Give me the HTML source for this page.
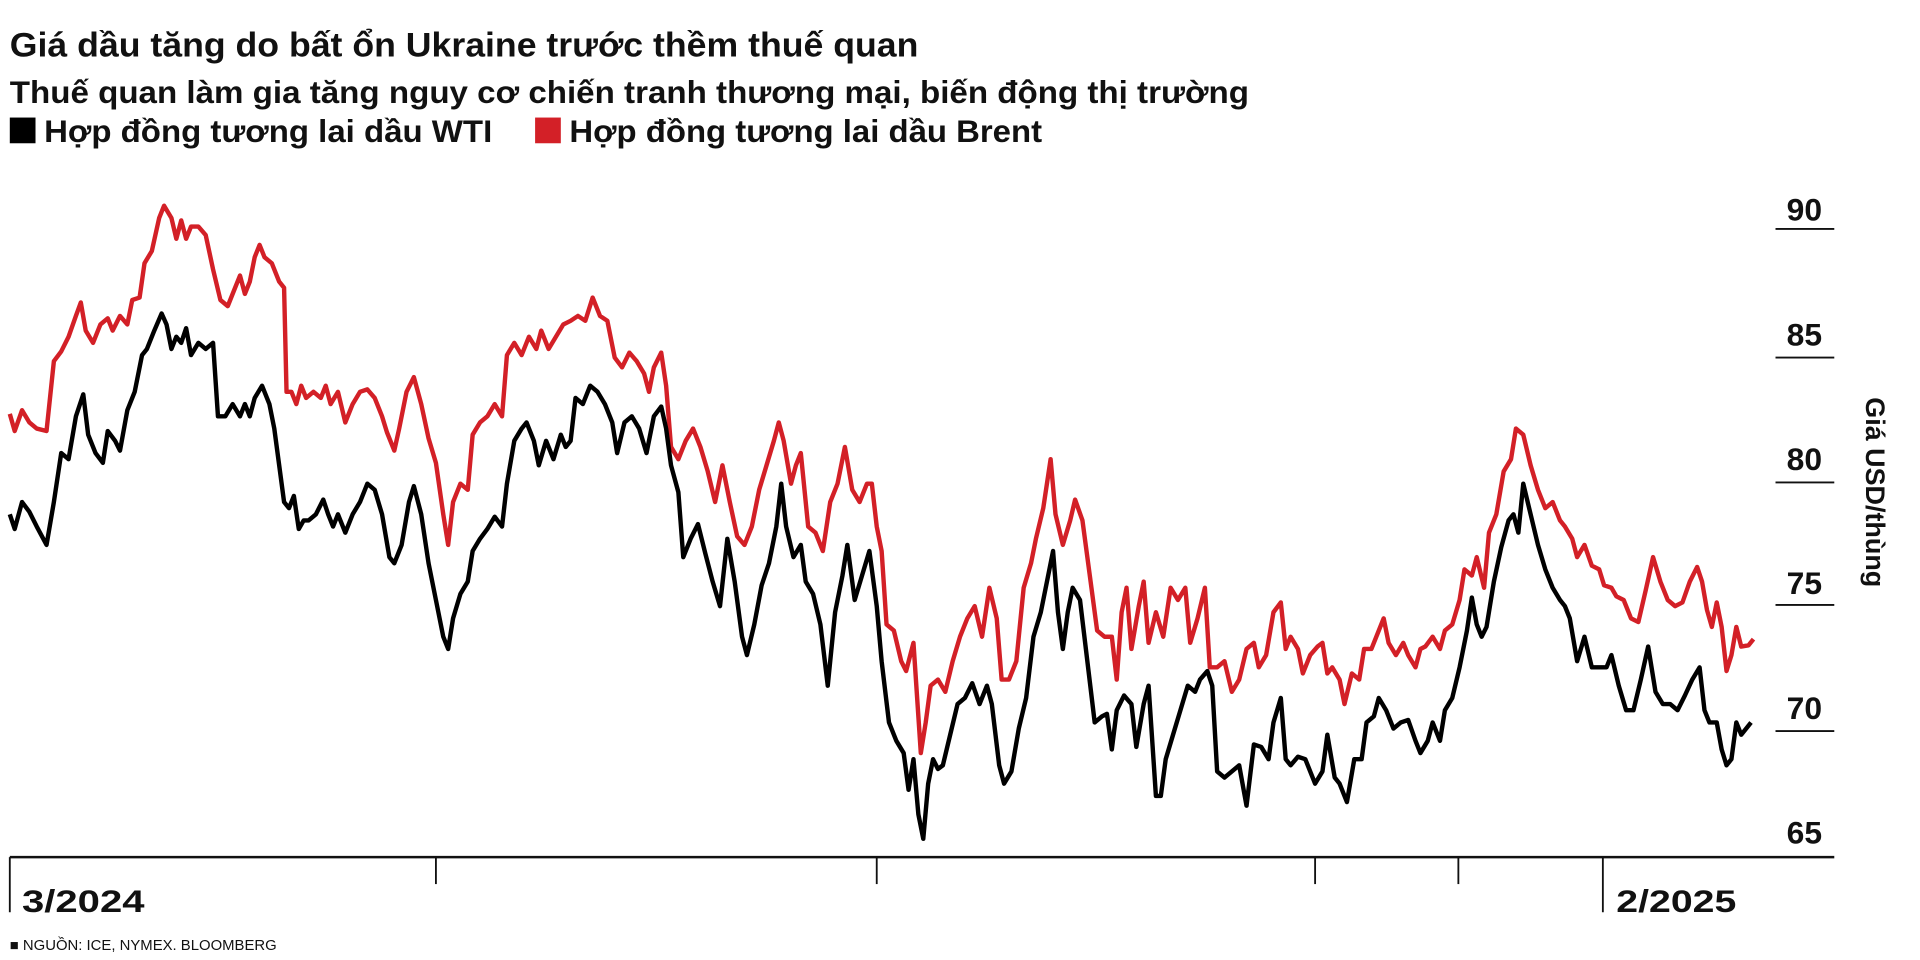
<!DOCTYPE html>
<html><head><meta charset="utf-8"><style>
html,body{margin:0;padding:0;background:#fff;}
svg{display:block;}
text{font-family:"Liberation Sans",sans-serif;fill:#111;}
</style></head><body>
<svg width="1920" height="960" viewBox="0 0 1568 784" xmlns="http://www.w3.org/2000/svg">
<text x="8" y="46" font-size="28" font-weight="bold" textLength="742" lengthAdjust="spacingAndGlyphs">Giá dầu tăng do bất ổn Ukraine trước thềm thuế quan</text>
<text x="8" y="84" font-size="26" font-weight="bold" textLength="1012" lengthAdjust="spacingAndGlyphs">Thuế quan làm gia tăng nguy cơ chiến tranh thương mại, biến động thị trường</text>
<rect x="8" y="96" width="21" height="21" fill="#000"/>
<text x="36" y="116" font-size="26" font-weight="bold" textLength="366" lengthAdjust="spacingAndGlyphs">Hợp đồng tương lai dầu WTI</text>
<rect x="437" y="96" width="21" height="21" fill="#d32027"/>
<text x="465" y="116" font-size="26" font-weight="bold" textLength="386" lengthAdjust="spacingAndGlyphs">Hợp đồng tương lai dầu Brent</text>

<g stroke="#111" stroke-width="1.5">
<line x1="1450" y1="187" x2="1498" y2="187"/>
<line x1="1450" y1="292" x2="1498" y2="292"/>
<line x1="1450" y1="394" x2="1498" y2="394"/>
<line x1="1450" y1="494" x2="1498" y2="494"/>
<line x1="1450" y1="597" x2="1498" y2="597"/>
<line x1="8" y1="700" x2="1498" y2="700" stroke-width="2"/>
<line x1="8" y1="700" x2="8" y2="745"/>
<line x1="356" y1="700" x2="356" y2="722"/>
<line x1="716" y1="700" x2="716" y2="722"/>
<line x1="1074" y1="700" x2="1074" y2="722"/>
<line x1="1191" y1="700" x2="1191" y2="722"/>
<line x1="1309" y1="700" x2="1309" y2="745"/>
</g>
<g font-size="26" font-weight="bold" text-anchor="end">
<text x="1488" y="180">90</text>
<text x="1488" y="282">85</text>
<text x="1488" y="384">80</text>
<text x="1488" y="485">75</text>
<text x="1488" y="587">70</text>
<text x="1488" y="689">65</text>
</g>
<text x="18" y="745" font-size="26" font-weight="bold" textLength="100" lengthAdjust="spacingAndGlyphs">3/2024</text>
<text x="1320" y="745" font-size="26" font-weight="bold" textLength="98" lengthAdjust="spacingAndGlyphs">2/2025</text>
<text transform="translate(1524,402) rotate(90)" font-size="22" font-weight="bold" text-anchor="middle">Giá USD/thùng</text>
<text x="8" y="776" font-size="12" fill="#333" textLength="218" lengthAdjust="spacingAndGlyphs">■ NGUỒN: ICE, NYMEX. BLOOMBERG</text>

<polyline fill="none" stroke="#d32027" stroke-width="3.6" stroke-linejoin="round" points="8,338 12,352 18,335 24,345 30,350 38,352 44,295 50,287 56,275 62,258 66,247 70,270 76,280 82,265 88,260 92,270 98,258 104,265 108,245 114,243 118,215 124,205 130,178 134,168 140,178 144,195 148,180 152,195 156,185 162,185 168,192 174,220 180,245 186,250 190,240 196,225 200,240 204,230 208,210 212,200 216,210 222,215 228,230 232,235 234,320 238,320 242,330 246,315 250,325 256,320 262,325 266,315 270,330 276,320 282,345 288,330 294,320 300,318 306,325 312,340 316,353 322,368 326,350 332,320 338,308 344,330 350,358 356,378 362,420 366,445 370,410 376,395 382,400 386,355 392,345 398,340 404,330 410,340 414,290 420,280 426,290 432,275 438,285 442,270 448,285 454,275 460,265 466,262 472,258 478,262 484,243 490,258 496,262 502,292 508,300 514,288 520,295 526,305 530,320 534,300 540,288 544,315 548,365 554,375 560,360 566,350 572,365 578,385 584,410 590,380 596,410 602,438 608,445 614,430 620,400 626,380 632,360 636,345 640,360 646,395 650,380 654,370 660,430 666,435 672,450 678,410 684,395 690,365 696,400 702,410 708,395 712,395 716,430 720,450 724,510 730,515 736,540 740,548 746,525 752,615 756,590 760,560 766,555 772,565 778,540 784,520 790,505 796,495 802,520 808,480 814,505 818,555 824,555 830,540 836,480 842,460 846,440 852,415 858,375 862,420 868,445 874,425 878,408 884,425 890,470 896,515 902,520 908,520 912,555 916,500 920,480 924,530 930,495 934,475 938,525 944,500 950,520 956,480 962,490 968,480 972,525 978,505 984,480 988,545 994,545 1000,540 1006,565 1012,555 1018,530 1024,525 1028,545 1034,535 1040,500 1046,492 1050,530 1054,520 1060,530 1064,550 1070,535 1076,528 1080,525 1084,550 1088,545 1094,555 1098,575 1104,550 1110,555 1114,530 1120,530 1124,520 1130,505 1134,525 1140,535 1146,525 1150,535 1156,545 1160,530 1164,528 1170,520 1176,530 1180,515 1186,510 1192,490 1196,465 1202,470 1206,455 1212,480 1216,435 1222,420 1228,385 1234,375 1238,350 1244,355 1250,380 1256,400 1262,415 1268,410 1274,425 1278,430 1284,440 1288,455 1294,445 1300,462 1306,465 1310,478 1316,480 1320,487 1326,490 1332,505 1338,508 1344,482 1350,455 1356,475 1362,490 1368,495 1374,492 1380,475 1386,463 1390,475 1394,498 1398,512 1402,492 1406,512 1410,548 1414,535 1418,512 1422,528 1428,527 1432,522"/>
<polyline fill="none" stroke="#000" stroke-width="3.6" stroke-linejoin="round" points="8,420 12,432 18,410 24,418 30,430 38,445 44,410 50,370 56,375 62,340 68,322 72,355 78,370 84,378 88,352 94,360 98,368 104,335 110,320 116,290 120,285 126,270 132,256 136,265 140,285 144,275 148,280 152,268 156,290 162,280 168,285 174,280 178,340 184,340 190,330 196,340 200,330 204,340 208,325 214,315 220,330 224,350 228,380 232,410 236,415 240,405 244,432 248,425 252,425 258,420 264,408 268,420 272,430 276,420 282,435 288,420 294,410 300,395 306,400 312,420 318,455 322,460 328,445 334,410 338,397 344,420 350,460 356,490 362,520 366,530 370,505 376,485 382,475 386,450 392,440 398,432 404,422 410,430 414,395 420,360 426,350 430,345 436,360 440,380 446,360 452,375 458,355 462,365 466,360 470,325 476,330 482,315 488,320 494,330 500,345 504,370 510,345 516,340 522,350 528,370 534,340 540,332 544,350 548,380 554,402 558,455 564,440 570,428 576,452 582,475 588,495 594,440 600,475 606,520 610,535 616,510 622,478 628,460 634,430 638,395 642,430 648,455 654,445 658,475 664,485 670,510 676,560 682,500 688,470 692,445 698,490 704,470 710,450 716,495 720,540 726,590 732,605 738,615 742,645 746,620 750,665 754,685 758,640 762,620 766,628 770,625 776,600 782,575 788,570 794,558 800,575 806,560 810,575 816,625 820,640 826,630 832,595 838,570 844,520 850,500 856,470 860,450 864,500 868,530 872,500 876,480 882,490 888,540 894,590 900,585 904,583 908,612 912,580 918,568 924,575 928,610 934,575 938,560 944,650 948,650 952,620 958,600 964,580 970,560 976,565 980,555 986,548 990,560 994,630 1000,635 1006,630 1012,625 1018,658 1024,608 1030,610 1036,620 1040,590 1046,570 1050,620 1054,625 1060,618 1066,620 1070,630 1074,640 1080,630 1084,600 1090,635 1094,640 1100,655 1106,620 1112,620 1116,590 1122,585 1126,570 1132,580 1138,595 1144,590 1150,588 1156,605 1160,615 1166,605 1170,590 1176,605 1180,580 1186,570 1192,545 1198,515 1202,488 1206,510 1210,520 1214,512 1220,475 1226,447 1232,425 1236,420 1240,435 1244,395 1250,420 1256,445 1262,465 1268,480 1274,490 1278,495 1282,505 1288,540 1294,520 1300,545 1306,545 1312,545 1316,535 1322,560 1328,580 1334,580 1340,555 1346,528 1352,565 1358,575 1364,575 1370,580 1376,568 1382,555 1388,545 1392,580 1396,590 1402,590 1406,612 1410,625 1414,620 1418,590 1422,600 1426,595 1430,590"/>
</svg>
</body></html>
